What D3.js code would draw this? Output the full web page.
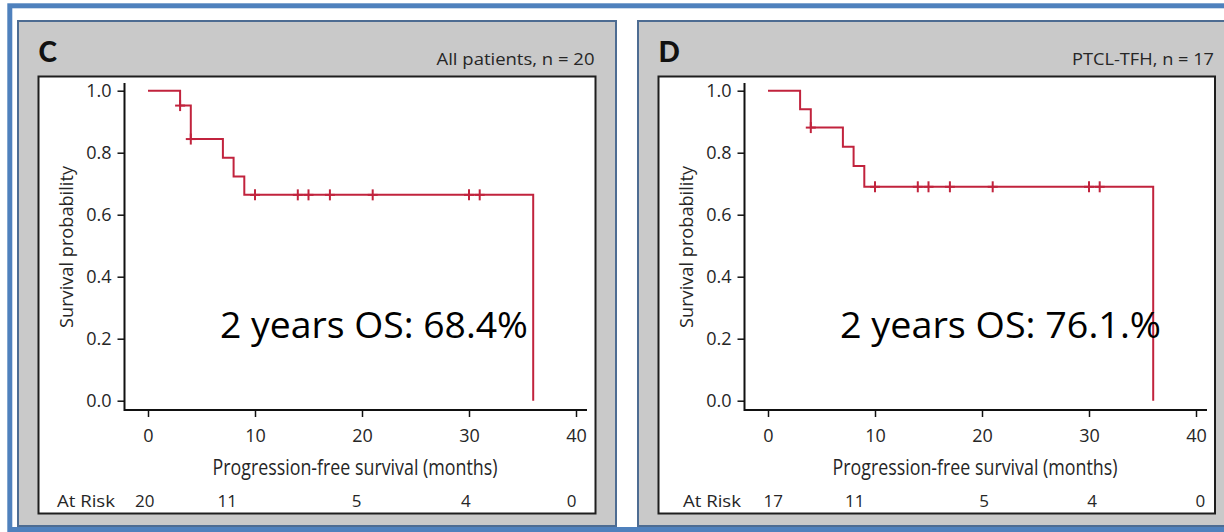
<!DOCTYPE html>
<html>
<head>
<meta charset="utf-8">
<script src="https://cdn.jsdelivr.net/npm/d3@7"></script>
<style>
  html, body { margin: 0; padding: 0; background: #ffffff; }
  svg { display: block; }
</style>
</head>
<body>
<svg id="chart" width="1224" height="532"></svg>
<script>
// ---------------- data ----------------
const panelLetters = ["C", "D"];
const panelTitles = ["All patients, n = 20", "PTCL-TFH, n = 17"];
const xTicks = [0, 10, 20, 30, 40];
const yTicks = [0.0, 0.2, 0.4, 0.6, 0.8, 1.0];
const xTitle = "Progression-free survival (months)";
const yTitle = "Survival probability";
const atRiskLabel = "At Risk";

// Panel C – all patients
const stepTimesC = [0, 3, 4, 7, 8, 9, 36];
const survivalC  = [1.0, 0.952, 0.844, 0.784, 0.723, 0.664, 0.0];
const censorTimesC = [3, 4, 10, 14, 15, 17, 21, 30, 31];
const atRiskC = [20, 11, 5, 4, 0];
const atRiskMonthsC = [-0.3, 7.4, 19.5, 29.7, 39.6];
const osTextC = "2 years OS: 68.4%";

// Panel D – PTCL-TFH
const stepTimesD = [0, 3, 4, 7, 8, 9, 36];
const survivalD  = [1.0, 0.940, 0.881, 0.819, 0.757, 0.690, 0.0];
const censorTimesD = [4, 10, 14, 15, 17, 21, 30, 31];
const atRiskD = [17, 11, 5, 4, 0];
const atRiskMonthsD = [0.5, 8.1, 20.2, 30.3, 40.4];
const osTextD = "2 years OS: 76.1.%";

// ---------------- layout ----------------
const svg = d3.select("#chart");
const RED = "#c1233d";
const TXT = "#262626";
const FONT = "'Open Sans', 'Noto Sans', sans-serif";
const NARROW = "'Liberation Sans Narrow', 'Open Sans', sans-serif";

// outer blue frame
svg.append("rect")
  .attr("x", 9.8).attr("y", 5.8).attr("width", 1300).attr("height", 523.7)
  .attr("fill", "none").attr("stroke", "#4f81bd").attr("stroke-width", 5);

const panels = [
  { letter: panelLetters[0], title: panelTitles[0], titleW: 158, times: stepTimesC, surv: survivalC,
    censor: censorTimesC, risk: atRiskC, riskMonths: atRiskMonthsC, os: osTextC, osW: 308,
    panelX: 18, panelW: 598, box: 38.5, boxW: 557, riskLabelEnd: 115 },
  { letter: panelLetters[1], title: panelTitles[1], titleW: 142, times: stepTimesD, surv: survivalD,
    censor: censorTimesD, risk: atRiskD, riskMonths: atRiskMonthsD, os: osTextD, osW: 321,
    panelX: 638, panelW: 620, box: 658.5, boxW: 556.5, riskLabelEnd: 741 }
];

panels.forEach(p => {
  const g = svg.append("g");
  // gray panel
  g.append("rect")
    .attr("x", p.panelX).attr("y", 21).attr("width", p.panelW).attr("height", 505)
    .attr("fill", "#c9c9c9").attr("stroke", "#4d6c92").attr("stroke-width", 2);
  // white plotting box
  g.append("rect")
    .attr("x", p.box).attr("y", 76.5).attr("width", p.boxW).attr("height", 437)
    .attr("fill", "#ffffff").attr("stroke", "#1e1e1e").attr("stroke-width", 2);

  // letter & subtitle
  g.append("text")
    .attr("x", p.box).attr("y", 62)
    .attr("font-family", "Lato, 'Open Sans', sans-serif").attr("font-weight", 900)
    .attr("font-size", 28).attr("fill", "#111")
    .text(p.letter);
  g.append("text")
    .attr("x", p.box + p.boxW - 1).attr("y", 65)
    .attr("text-anchor", "end")
    .attr("font-family", FONT).attr("font-size", 17).attr("fill", TXT)
    .attr("textLength", p.titleW).attr("lengthAdjust", "spacingAndGlyphs")
    .text(p.title);

  const x = d3.scaleLinear().domain([0, 40]).range([p.box + 109.5, p.box + 537.5]);
  const y = d3.scaleLinear().domain([0, 1]).range([400.7, 90.7]);
  const axisX = p.box + 86;
  const axisY = 410;

  // axes
  const gy = g.append("g").attr("transform", `translate(${axisX},0)`)
    .call(d3.axisLeft(y).tickValues(yTicks).tickFormat(d3.format(".1f"))
      .tickSize(7).tickSizeOuter(0).tickPadding(6));
  gy.select(".domain").remove();
  gy.selectAll(".tick line").attr("stroke", "#111").attr("stroke-width", 1.5);
  gy.selectAll(".tick text").attr("font-family", FONT).attr("font-size", 18).attr("fill", TXT);

  const gx = g.append("g").attr("transform", `translate(0,${axisY})`)
    .call(d3.axisBottom(x).tickValues(xTicks).tickFormat(d3.format("d"))
      .tickSize(7).tickSizeOuter(0).tickPadding(12));
  gx.select(".domain").remove();
  gx.selectAll(".tick line").attr("stroke", "#111").attr("stroke-width", 1.5);
  gx.selectAll(".tick text").attr("font-family", FONT).attr("font-size", 18).attr("fill", TXT);

  // axis lines (joined at the corner)
  g.append("path")
    .attr("d", `M${axisX},83 V${axisY} H${x(40) + 11}`)
    .attr("fill", "none").attr("stroke", "#111").attr("stroke-width", 2);

  // axis titles
  g.append("text")
    .attr("x", (x(0) + x(40)) / 2 - 7).attr("y", 475)
    .attr("text-anchor", "middle")
    .attr("font-family", NARROW).attr("font-size", 21).attr("fill", TXT)
    .attr("textLength", 285).attr("lengthAdjust", "spacingAndGlyphs")
    .text(xTitle);
  g.append("text")
    .attr("transform", `translate(${p.box + 27},247) rotate(-90)`)
    .attr("text-anchor", "middle").attr("dominant-baseline", "central")
    .attr("font-family", NARROW).attr("font-size", 19).attr("fill", TXT)
    .attr("textLength", 162).attr("lengthAdjust", "spacingAndGlyphs")
    .text(yTitle);

  // at-risk row
  g.append("text")
    .attr("x", p.riskLabelEnd).attr("y", 507).attr("text-anchor", "end")
    .attr("font-family", FONT).attr("font-size", 17).attr("fill", TXT)
    .attr("textLength", 58).attr("lengthAdjust", "spacingAndGlyphs")
    .text(atRiskLabel);
  g.selectAll(".risk").data(p.risk).enter().append("text")
    .attr("x", (d, i) => x(p.riskMonths[i])).attr("y", 507)
    .attr("text-anchor", "middle")
    .attr("font-family", FONT).attr("font-size", 17).attr("fill", TXT)
    .text(d => d);

  // KM step curve
  const pts = p.times.map((t, i) => [t, p.surv[i]]);
  g.append("path")
    .datum(pts)
    .attr("d", d3.line().x(d => x(d[0])).y(d => y(d[1])).curve(d3.curveStepAfter))
    .attr("fill", "none").attr("stroke", RED).attr("stroke-width", 2);

  // censor marks
  const survAt = t => {
    let s = p.surv[0];
    p.times.forEach((tt, i) => { if (tt <= t) s = p.surv[i]; });
    return s;
  };
  const cg = g.selectAll(".cens").data(p.censor).enter().append("g")
    .attr("transform", d => `translate(${x(d)},${y(survAt(d))})`);
  cg.append("line").attr("x1", -5).attr("x2", 5).attr("y1", 0).attr("y2", 0)
    .attr("stroke", RED).attr("stroke-width", 2);
  cg.append("line").attr("x1", 0).attr("x2", 0).attr("y1", -5.5).attr("y2", 5.5)
    .attr("stroke", RED).attr("stroke-width", 2);

  // OS annotation
  g.append("text")
    .attr("x", p.box + 181.5).attr("y", 338)
    .attr("font-family", FONT).attr("font-size", 37).attr("fill", "#000")
    .attr("textLength", p.osW).attr("lengthAdjust", "spacingAndGlyphs")
    .text(p.os);
});
</script>
</body>
</html>
